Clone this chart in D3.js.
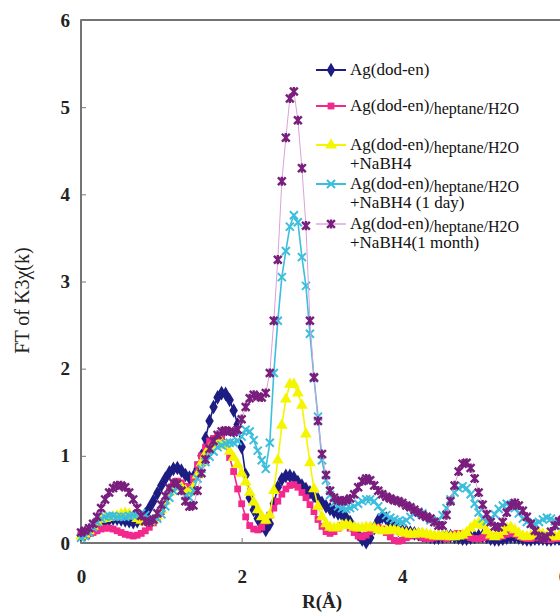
<!DOCTYPE html>
<html>
<head>
<meta charset="utf-8">
<script src="https://cdn.jsdelivr.net/npm/d3@7"></script>
<style>
  body { margin: 0; background: #fff; }
  svg { display: block; font-family: "Liberation Serif", "DejaVu Serif", serif; }
  .tick text { font-family: "Liberation Serif", serif; font-size: 19px; font-weight: bold; fill: #222; }
</style>
</head>
<body>
<div class="chart"></div>
<script>
var svgWidth = 560;
var svgHeight = 614;

var margin = { top: 20, left: 81, plotRight: 563, bottom: 543 };

// R (Angstrom) grid
var rValues = [
  0, 0.05, 0.1, 0.15, 0.2, 0.25, 0.3, 0.35, 0.4, 0.45,
  0.5, 0.55, 0.6, 0.65, 0.7, 0.75, 0.8, 0.85, 0.9, 0.95,
  1, 1.05, 1.1, 1.15, 1.2, 1.25, 1.3, 1.35, 1.4, 1.45,
  1.5, 1.55, 1.6, 1.65, 1.7, 1.75, 1.8, 1.85, 1.9, 1.95,
  2, 2.05, 2.1, 2.15, 2.2, 2.25, 2.3, 2.35, 2.4, 2.45,
  2.5, 2.55, 2.6, 2.65, 2.7, 2.75, 2.8, 2.85, 2.9, 2.95,
  3, 3.05, 3.1, 3.15, 3.2, 3.25, 3.3, 3.35, 3.4, 3.45,
  3.5, 3.55, 3.6, 3.65, 3.7, 3.75, 3.8, 3.85, 3.9, 3.95,
  4, 4.05, 4.1, 4.15, 4.2, 4.25, 4.3, 4.35, 4.4, 4.45,
  4.5, 4.55, 4.6, 4.65, 4.7, 4.75, 4.8, 4.85, 4.9, 4.95,
  5, 5.05, 5.1, 5.15, 5.2, 5.25, 5.3, 5.35, 5.4, 5.45,
  5.5, 5.55, 5.6, 5.65, 5.7, 5.75, 5.8, 5.85, 5.9, 5.95,
  6
];

var agDodEn = [
  0.10,0.10,0.12,0.15,0.18,0.22,0.25,0.27,0.28,0.28,
  0.27,0.26,0.25,0.24,0.25,0.28,0.33,0.40,0.48,0.57,
  0.66,0.74,0.81,0.85,0.86,0.83,0.78,0.75,0.76,0.85,
  1.00,1.20,1.40,1.56,1.67,1.72,1.71,1.64,1.52,1.36,
  1.10,0.78,0.52,0.38,0.28,0.20,0.15,0.22,0.45,0.64,
  0.73,0.77,0.77,0.75,0.70,0.66,0.62,0.58,0.54,0.50,
  0.46,0.42,0.39,0.36,0.34,0.32,0.29,0.24,0.17,0.10,
  0.04,0.01,0.06,0.17,0.26,0.30,0.28,0.23,0.18,0.15,
  0.14,0.13,0.12,0.11,0.10,0.09,0.08,0.07,0.06,0.06,
  0.07,0.08,0.08,0.07,0.06,0.05,0.05,0.06,0.07,0.08,
  0.08,0.07,0.05,0.04,0.04,0.05,0.06,0.07,0.07,0.06,
  0.05,0.04,0.04,0.05,0.05,0.05,0.04,0.04,0.05,0.05,
  0.05
];

var heptaneH2O = [
  0.10,0.10,0.11,0.12,0.14,0.16,0.17,0.17,0.16,0.14,
  0.12,0.10,0.09,0.08,0.09,0.11,0.14,0.18,0.23,0.29,
  0.36,0.48,0.60,0.68,0.71,0.69,0.65,0.64,0.74,0.90,
  1.00,1.10,1.17,1.20,1.22,1.22,1.12,0.98,0.82,0.62,
  0.45,0.30,0.20,0.16,0.15,0.18,0.25,0.32,0.40,0.48,
  0.56,0.62,0.66,0.67,0.64,0.58,0.52,0.44,0.36,0.27,
  0.19,0.13,0.11,0.13,0.17,0.20,0.20,0.17,0.12,0.08,
  0.07,0.09,0.13,0.17,0.18,0.16,0.12,0.07,0.03,0.02,
  0.03,0.06,0.08,0.09,0.08,0.06,0.05,0.05,0.06,0.07,
  0.06,0.05,0.07,0.10,0.11,0.10,0.08,0.06,0.05,0.05,
  0.06,0.07,0.08,0.08,0.07,0.08,0.10,0.11,0.10,0.08,
  0.06,0.05,0.05,0.06,0.06,0.05,0.04,0.04,0.05,0.05,
  0.05
];

var nabh4 = [
  0.08,0.10,0.14,0.19,0.24,0.27,0.28,0.29,0.30,0.31,
  0.33,0.34,0.33,0.31,0.28,0.26,0.24,0.24,0.26,0.31,
  0.38,0.48,0.58,0.64,0.66,0.64,0.60,0.58,0.64,0.78,
  0.92,1.02,1.08,1.12,1.14,1.15,1.12,1.05,0.98,0.90,
  0.80,0.70,0.58,0.47,0.38,0.30,0.26,0.32,0.60,0.95,
  1.35,1.65,1.82,1.82,1.72,1.58,1.25,0.92,0.62,0.42,
  0.30,0.22,0.18,0.17,0.18,0.20,0.21,0.20,0.18,0.17,
  0.17,0.18,0.18,0.17,0.15,0.14,0.14,0.15,0.15,0.14,
  0.12,0.11,0.10,0.10,0.11,0.11,0.10,0.09,0.08,0.08,
  0.08,0.08,0.07,0.07,0.08,0.09,0.12,0.17,0.21,0.23,
  0.20,0.14,0.09,0.07,0.09,0.13,0.17,0.18,0.15,0.11,
  0.08,0.07,0.08,0.10,0.11,0.10,0.08,0.07,0.07,0.08,
  0.08
];

var nabh4Day = [
  0.06,0.08,0.12,0.18,0.24,0.28,0.30,0.31,0.31,0.30,
  0.30,0.30,0.31,0.32,0.33,0.34,0.32,0.28,0.26,0.28,
  0.33,0.42,0.52,0.60,0.63,0.60,0.54,0.52,0.60,0.74,
  0.85,0.93,0.99,1.05,1.10,1.12,1.14,1.15,1.15,1.17,
  1.22,1.30,1.28,1.18,1.06,0.95,0.85,1.15,1.95,2.55,
  3.05,3.35,3.63,3.76,3.68,3.28,2.95,2.40,1.89,1.45,
  0.95,0.72,0.55,0.46,0.42,0.40,0.39,0.40,0.42,0.45,
  0.48,0.50,0.50,0.48,0.42,0.36,0.32,0.29,0.27,0.25,
  0.24,0.26,0.30,0.34,0.36,0.34,0.30,0.26,0.24,0.26,
  0.32,0.40,0.50,0.58,0.63,0.65,0.63,0.56,0.45,0.35,
  0.28,0.25,0.27,0.33,0.39,0.43,0.45,0.44,0.40,0.34,
  0.28,0.24,0.22,0.22,0.24,0.27,0.29,0.28,0.25,0.22,
  0.20
];

var nabh4Month = [
  0.12,0.14,0.17,0.22,0.30,0.40,0.50,0.58,0.63,0.66,
  0.66,0.64,0.58,0.50,0.40,0.31,0.25,0.24,0.27,0.34,
  0.44,0.54,0.63,0.69,0.68,0.60,0.48,0.42,0.43,0.60,
  0.80,0.96,1.08,1.17,1.24,1.28,1.29,1.28,1.27,1.30,
  1.42,1.56,1.66,1.70,1.68,1.67,1.72,1.95,2.55,3.25,
  4.15,4.65,5.10,5.18,4.85,4.30,3.64,2.55,1.90,1.40,
  1.02,0.78,0.60,0.52,0.49,0.48,0.49,0.51,0.56,0.64,
  0.71,0.74,0.72,0.66,0.60,0.56,0.53,0.51,0.49,0.48,
  0.46,0.43,0.41,0.38,0.35,0.32,0.30,0.28,0.24,0.20,
  0.20,0.32,0.48,0.66,0.82,0.91,0.92,0.86,0.74,0.58,
  0.44,0.33,0.24,0.19,0.18,0.24,0.35,0.43,0.46,0.43,
  0.37,0.30,0.22,0.14,0.08,0.05,0.07,0.13,0.20,0.25,
  0.27
];

var xTicks = [0, 2, 4, 6];
var yTicks = [0, 1, 2, 3, 4, 5, 6];

// custom marker paths (x and asterisk)
function crossPath(s) {
  return "M" + (-s) + "," + (-s) + "L" + s + "," + s + "M" + (-s) + "," + s + "L" + s + "," + (-s);
}
function starPath(s) {
  return crossPath(s * 0.85) + "M0," + (-s) + "L0," + s;
}

var series = [
  { values: agDodEn, line: "#1c1c82", fill: "#1c1c82", width: 1.6,
    marker: d3.symbol().type(d3.symbolDiamond).size(62)(), stroke: false,
    label: ["Ag(dod-en)"] },
  { values: heptaneH2O, line: "#f2288c", fill: "#f2288c", width: 1.6,
    marker: d3.symbol().type(d3.symbolSquare).size(46)(), stroke: false,
    label: ["Ag(dod-en)", "/heptane/H2O"] },
  { values: nabh4, line: "#f5f500", fill: "#f5f500", width: 1.6,
    marker: d3.symbol().type(d3.symbolTriangle).size(60)(), stroke: false,
    label: ["Ag(dod-en)", "/heptane/H2O", "+NaBH4"] },
  { values: nabh4Day, line: "#3cbedc", fill: "#3cbedc", width: 1.6,
    marker: crossPath(4), stroke: true, sw: 2,
    label: ["Ag(dod-en)", "/heptane/H2O", "+NaBH4  (1 day)"] },
  { values: nabh4Month, line: "#d9a2da", fill: "#7a1e7e", width: 1,
    marker: starPath(4.6), stroke: true, sw: 2.4,
    label: ["Ag(dod-en)", "/heptane/H2O", "+NaBH4(1 month)"] }
];

var svg = d3.select(".chart")
  .append("svg")
  .attr("width", svgWidth)
  .attr("height", svgHeight);

var xScale = d3.scaleLinear().domain([0, 6]).range([margin.left, margin.plotRight]);
var yScale = d3.scaleLinear().domain([0, 6]).range([margin.bottom, margin.top]);

// frame
svg.append("rect")
  .attr("x", xScale(0))
  .attr("y", yScale(6))
  .attr("width", xScale(6) - xScale(0))
  .attr("height", yScale(0) - yScale(6))
  .attr("fill", "none")
  .attr("stroke", "#3a3a3a")
  .attr("stroke-width", 1.4);

var leftAxis = d3.axisLeft(yScale).tickValues(yTicks).tickFormat(d3.format("d")).tickSize(-5).tickPadding(11);
var bottomAxis = d3.axisBottom(xScale).tickValues(xTicks).tickFormat(d3.format("d")).tickSize(-5).tickPadding(27);

var yAxis = svg.append("g")
  .attr("transform", `translate(${margin.left},0)`)
  .call(leftAxis);
var xAxis = svg.append("g")
  .attr("transform", `translate(0,${margin.bottom})`)
  .call(bottomAxis);

svg.selectAll(".domain").remove();
svg.selectAll(".tick line").attr("stroke", "#777").attr("stroke-width", 1);

// lines and markers
var lineGen = d3.line()
  .x((d, i) => xScale(rValues[i]))
  .y(d => yScale(d));

series.forEach(function(s) {
  svg.append("path")
    .datum(s.values)
    .attr("d", lineGen)
    .attr("fill", "none")
    .attr("stroke", s.line)
    .attr("stroke-width", s.width);

  var marks = svg.append("g").selectAll("path")
    .data(s.values)
    .enter()
    .append("path")
    .attr("transform", (d, i) => `translate(${xScale(rValues[i])},${yScale(d)})`)
    .attr("d", s.marker);

  if (s.stroke) {
    marks.attr("fill", "none").attr("stroke", s.fill).attr("stroke-width", s.sw);
  } else {
    marks.attr("fill", s.fill);
  }
});

// legend
var legendY = [70, 106, 145, 184, 224];
var legend = svg.append("g").style("font-size", "17px").style("fill", "#111");

series.forEach(function(s, i) {
  var g = legend.append("g").attr("transform", `translate(316,${legendY[i]})`);
  g.append("line")
    .attr("x1", 0).attr("x2", 30)
    .attr("y1", 0).attr("y2", 0)
    .attr("stroke", s.line)
    .attr("stroke-width", s.width + 0.4);
  var m = g.append("path")
    .attr("transform", "translate(15,0)")
    .attr("d", s.marker);
  if (s.stroke) {
    m.attr("fill", "none").attr("stroke", s.fill).attr("stroke-width", s.sw);
  } else {
    m.attr("fill", s.fill);
  }

  var t = g.append("text").attr("x", 34).attr("y", 5);
  t.append("tspan").text(s.label[0]);
  if (s.label.length > 1) {
    t.append("tspan").attr("dy", 3).style("font-size", "16px").text(s.label[1]);
  }
  if (s.label.length > 2) {
    g.append("text").attr("x", 34).attr("y", 24).text(s.label[2]);
  }
});

// axis titles
svg.append("text")
  .attr("transform", `translate(29,${(margin.top + margin.bottom) / 2 + 19}) rotate(-90)`)
  .attr("text-anchor", "middle")
  .style("font-size", "20px")
  .style("fill", "#222")
  .text("FT of K3χ(k)");

svg.append("text")
  .attr("x", 322)
  .attr("y", 608)
  .attr("text-anchor", "middle")
  .style("font-size", "19px")
  .style("font-weight", "bold")
  .style("fill", "#222")
  .text("R(Å)");
</script>
</body>
</html>
